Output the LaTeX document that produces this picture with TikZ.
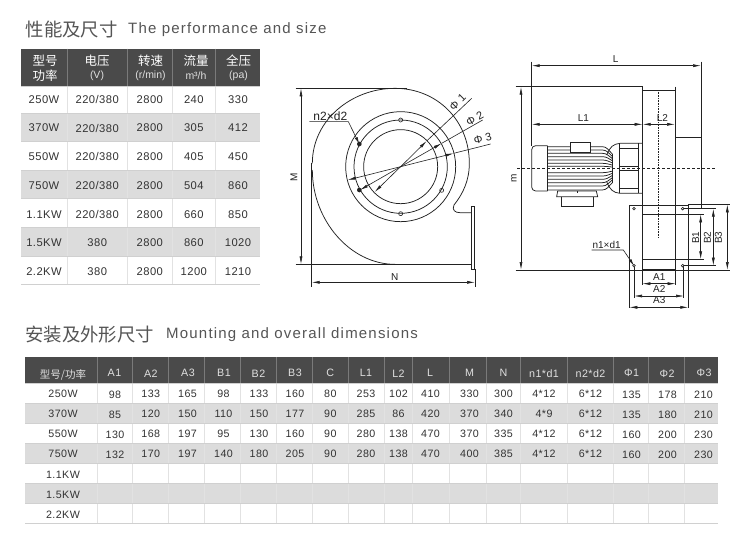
\documentclass[tikz,border=0pt]{standalone}
\usepackage{fontspec}
\setmainfont{Liberation Sans}
\newfontfamily\cjk{Noto Sans CJK SC}
\newfontfamily\spaced[LetterSpace=4]{Liberation Sans}
\newfontfamily\wide[LetterSpace=8]{Liberation Sans}
\usetikzlibrary{arrows.meta}
\definecolor{ink}{HTML}{333333}
\definecolor{headbg}{HTML}{4A4A4A}
\definecolor{stripe}{HTML}{DCDCDC}
\definecolor{rulecol}{HTML}{E2E2E2}
\definecolor{sepcol}{HTML}{7A7A7A}
\definecolor{drawcol}{HTML}{222222}
\definecolor{titlecol}{HTML}{555555}
\tikzset{
  cella/.style={text=ink,inner sep=0pt,anchor=center,font=\spaced\fontsize{11.2}{12}\selectfont},
  cellb/.style={text=ink,inner sep=0pt,anchor=center,font=\spaced\fontsize{10.7}{12}\selectfont},
  heada/.style={text=white,inner sep=0pt,anchor=center,font=\cjk\fontsize{12.5}{13}\selectfont},
  headb/.style={text=white!88!black,inner sep=0pt,anchor=center,font=\fontsize{10.5}{12}\selectfont},
  headc/.style={text=white!88!black,inner sep=0pt,anchor=center,font=\spaced\fontsize{10.7}{12}\selectfont},
  titlecn/.style={text=titlecol,inner sep=0pt,anchor=west,font=\cjk\fontsize{18.4}{20}\selectfont},
  titleen/.style={text=titlecol,inner sep=0pt,anchor=west,font=\wide\fontsize{15}{18}\selectfont},
  part/.style={draw=drawcol,line width=0.75pt},
  thin/.style={draw=drawcol,line width=0.6pt},
  dim/.style={draw=drawcol,line width=0.6pt,{Latex[length=8pt,width=3pt]}-{Latex[length=8pt,width=3pt]}},
  lab/.style={text=drawcol,inner sep=0pt,font=\fontsize{10}{11}\selectfont},
}
\newcommand{\rowA}[7]{%
  \node[cella] (a#1-1) at (44,#2) {#3};
  \node[cella] (a#1-2) at (97.2,#2) {#4};
  \node[cella] (a#1-3) at (149.8,#2) {2800};
  \node[cella] (a#1-4) at (193.8,#2) {#5};
  \node[cella] (a#1-5) at (238,#2) {#6};
}
\begin{document}
\begin{tikzpicture}[x=1pt,y=-1pt]
\useasboundingbox (0,0) rectangle (750,536);
\fill[white] (0,0) rectangle (750,536);

% ---------- titles
\node[titlecn] (title1) at (25.5,29.5) {性能及尺寸};
\node[titleen] (title1en) at (128,30) {The performance and size};
\node[titlecn] (title2) at (25,334.5) {安装及外形尺寸};
\node[titleen] (title2en) at (166,335) {Mounting and overall dimensions};

% ---------- table 1
\fill[headbg] (21,48.5) rectangle (260.3,86);
\fill[stripe] (21,113.3) rectangle (260.3,141.7);
\fill[stripe] (21,170) rectangle (260.3,198.5);
\fill[stripe] (21,227.3) rectangle (260.3,256);
\foreach \x in {67.3,127.3,172.3,215.3}{
  \draw[sepcol,line width=0.5pt] (\x,48.5) -- (\x,86);
  \draw[rulecol,line width=0.5pt] (\x,86) -- (\x,284.5);
}
\foreach \y in {86,113.3,141.7,170,198.5,227.3,256,284.5}
  \draw[rulecol!92!black,line width=0.5pt] (21,\y) -- (260.3,\y);
\node[heada] (h1a) at (45,61) {型号};
\node[heada] (h1b) at (45,76) {功率};
\node[heada] (h2a) at (97,61) {电压};
\node[headb] (h2b) at (97,75.5) {(V)};
\node[heada] (h3a) at (150.5,61) {转速};
\node[headb] (h3b) at (150.5,75.5) {(r/min)};
\node[heada] (h4a) at (196,61) {流量};
\node[headb] (h4b) at (196,76) {m³/h};
\node[heada] (h5a) at (238.5,61) {全压};
\node[headb] (h5b) at (238.5,75.5) {(pa)};
\rowA{1}{99.5}{250W}{220/380}{240}{330}{}
\rowA{2}{128}{370W}{220/380}{305}{412}{}
\rowA{3}{156.8}{550W}{220/380}{405}{450}{}
\rowA{4}{185.3}{750W}{220/380}{504}{860}{}
\rowA{5}{214.3}{1.1KW}{220/380}{660}{850}{}
\rowA{6}{242.8}{1.5KW}{380}{860}{1020}{}
\rowA{7}{271.3}{2.2KW}{380}{1200}{1210}{}

% ---------- table 2
\fill[headbg] (25,357.3) rectangle (718.3,383.3);
\fill[stripe] (25,403.3) rectangle (718.3,423.7);
\fill[stripe] (25,443.3) rectangle (718.3,463.7);
\fill[stripe] (25,483.3) rectangle (718.3,503.7);
\foreach \x in {97.7,132.5,168.5,204.7,240.7,276.7,312.7,348.5,384.5,412.3,449.3,486.3,520.7,567.3,613,648.3,684.3}{
  \draw[sepcol,line width=0.5pt] (\x,357.3) -- (\x,383.3);
  \draw[rulecol,line width=0.5pt] (\x,383.3) -- (\x,523.3);
}
\foreach \y in {383.3,403.3,423.7,443.3,463.7,483.3,503.7,523.3}
  \draw[rulecol!92!black,line width=0.5pt] (25,\y) -- (718.3,\y);
\node[text=white!88!black,inner sep=0pt,font=\cjk\fontsize{10.5}{12}\selectfont] (hh0) at (63,374.5) {型号/功率};
\foreach \x/\t [count=\i] in {114.5/A1,150.8/A2,188/A3,224/B1,258.5/B2,295/B3,330.3/C,366/L1,398.5/L2,430/L,469.5/M,503.5/N,544/n1*d1,590.5/n2*d2,631.5/Φ1,667/Φ2,704/Φ3}
  \node[headc] (hh\i) at (\x,373.3) {\t};
\foreach \y/\t [count=\i] in {393.5/250W,414/370W,434/550W,454/750W,474.5/1.1KW,494.5/1.5KW,514.5/2.2KW}
  \node[cellb] (r\i) at (63,\y) {\t};
\foreach \n/\y/\dd/\va/\vb/\vc/\vd/\ve/\vf/\vg/\vh/\vi/\vj/\vk/\vl/\vm/\vo/\vp/\vq/\vr in {
  1/393.5/395/98/133/165/98/133/160/80/253/102/410/330/300/4*12/6*12/135/178/210,
  2/413.5/415/85/120/150/110/150/177/90/285/86/420/370/340/4*9/6*12/135/180/210,
  3/433.5/435/130/168/197/95/130/160/90/280/138/470/370/335/4*12/6*12/160/200/230,
  4/453.5/455/132/170/197/140/180/205/90/280/138/470/400/385/4*12/6*12/160/200/230}{
  \node[cellb] (c\n-1) at (115,\dd) {\va};
  \node[cellb] (c\n-2) at (150.8,\y) {\vb};
  \node[cellb] (c\n-3) at (187.5,\y) {\vc};
  \node[cellb] (c\n-4) at (223.5,\y) {\vd};
  \node[cellb] (c\n-5) at (259,\y) {\ve};
  \node[cellb] (c\n-6) at (295,\y) {\vf};
  \node[cellb] (c\n-7) at (330.3,\y) {\vg};
  \node[cellb] (c\n-8) at (366,\y) {\vh};
  \node[cellb] (c\n-9) at (398.5,\y) {\vi};
  \node[cellb] (c\n-10) at (430.5,\y) {\vj};
  \node[cellb] (c\n-11) at (469.5,\y) {\vk};
  \node[cellb] (c\n-12) at (503.5,\y) {\vl};
  \node[cellb] (c\n-13) at (544,\y) {\vm};
  \node[cellb] (c\n-14) at (590.5,\y) {\vo};
  \node[cellb] (c\n-15) at (631.5,\dd) {\vp};
  \node[cellb] (c\n-16) at (667.5,\dd) {\vq};
  \node[cellb] (c\n-17) at (703.5,\dd) {\vr};
}

% ---------- scroll housing (zoomed pixel frame)
\begin{scope}[shift={(280,70)},scale=1/3]
  \coordinate (fc) at (362,290);
  \draw[part] (97,280) .. controls (97,150) and (215,55) .. (345,55)
       .. controls (470,55) and (568,150) .. (568,280)
       .. controls (568,330) and (550,370) .. (522,405)
       .. controls (515,420) and (525,428) .. (540,428) -- (576,428);
  \draw[part] (97,300) .. controls (97,450) and (210,583) .. (345,583);
  \draw[part] (47,55) -- (380,55);
  \draw[part] (47,583) -- (576,583);
  \draw[part] (95,280) -- (95,650);
  \draw[thin] (585,598) -- (585,650);
  \draw[part,fill=white] (575,410) rectangle (583,598);
  \draw[part] (fc) circle[radius=111];
  \draw[part] (fc) circle[radius=140];
  \draw[part] (fc) circle[radius=165];
  \draw[thin] (362,150) circle[radius=6];
  \draw[thin] (362,431) circle[radius=6];
  \draw[thin] (485,361) circle[radius=6];
  \fill[drawcol] (238,222) circle[radius=7];
  \fill[drawcol] (238,360) circle[radius=7];
  \draw[dim] (63,55) -- (63,583);
  \draw[dim] (95,637) -- (585,637);
  \node[lab,rotate=90] (labM) at (42,322) {M};
  \node[lab] (labN) at (344,620) {N};
  % diameters
  \draw[thin,-{Latex[length=8pt,width=3pt]}] (362,290) -- (284,366);
  \draw[thin,-{Latex[length=8pt,width=3pt]}] (362,290) -- (440,213);
  \draw[thin] (440,213) -- (575,85);
  \draw[thin,-{Latex[length=8pt,width=3pt]}] (362,290) -- (240,360);
  \draw[thin,-{Latex[length=8pt,width=3pt]}] (362,290) -- (485,220);
  \draw[thin] (485,220) -- (608,150);
  \draw[thin,-{Latex[length=8pt,width=3pt]}] (362,290) -- (203,330);
  \draw[thin,-{Latex[length=8pt,width=3pt]}] (362,290) -- (521,250);
  \draw[thin] (521,250) -- (632,222);
  \node[lab,rotate=45,font=\fontsize{11}{12}\selectfont] (phi1) at (533,97) {Φ 1};
  \node[lab,rotate=30,font=\fontsize{11}{12}\selectfont] (phi2) at (584,146) {Φ 2};
  \node[lab,rotate=14,font=\fontsize{11}{12}\selectfont] (phi3) at (608,207) {Φ 3};
  \node[lab,font=\fontsize{12}{13}\selectfont] (n2d2) at (151,138) {n2×d2};
  \draw[thin,-{Latex[length=7pt,width=3pt]}] (88,155) -- (205,155) -- (238,222);
\end{scope}

% ---------- side elevation (zoomed pixel frame)
\begin{scope}[shift={(500,40)},scale=1/3]
  \draw[part] (95,65) -- (95,318);
  \draw[part,line width=0.9pt] (603,65) -- (603,505);
  \draw[dim] (95,77) -- (603,77);
  \node[lab] (labL) at (347,57) {L};
  \draw[part] (47,140) -- (428,140) -- (428,495);
  \draw[part] (428,150) -- (525,150);
  \draw[part] (525,140) -- (525,495);
  \draw[part] (525,293) -- (603,293);
  \draw[thin,densely dotted] (476,150) -- (476,595);
  \draw[thin,densely dashed] (52,385) -- (650,385);
  \draw[dim] (95,253) -- (428,253);
  \draw[dim] (428,253) -- (525,253);
  \node[lab] (labL1) at (250,233) {L1};
  \node[lab] (labL2) at (487,233) {L2};
  \draw[dim,line width=0.7pt] (63,140) -- (63,690);
  \node[lab,rotate=90] (labm) at (42,415) {m};
  \draw[part] (47,690) -- (690,690);
  % inlet flange
  \draw[part,fill=white] (388,495) rectangle (565,690);
  \draw[part] (428,495) -- (428,523);
  \draw[part] (525,495) -- (525,523);
  \draw[thin,densely dotted] (476,495) -- (476,595);
  \draw[part] (427,523) rectangle (527,688);
  \draw[part] (427,658) -- (527,658);
  \draw[thin] (388,690) -- (388,805);
  \draw[thin] (565,690) -- (565,805);
  \draw[thin] (427,688) -- (427,735);
  \draw[thin] (527,688) -- (527,735);
  \draw[thin] (402,677) -- (402,775);
  \draw[thin] (550,677) -- (550,775);
  \foreach \x/\y in {402/506,548/506,402/677,548/677}
    \draw[thin,fill=white] (\x,\y) circle[radius=4];
  \draw[thin] (552,506) -- (648,506);
  \draw[thin] (527,523) -- (612,523);
  \draw[thin] (527,658) -- (612,658);
  \draw[thin] (552,677) -- (648,677);
  \draw[thin] (565,493) -- (690,493);
  \draw[dim] (602,523) -- (602,658);
  \draw[dim] (640,506) -- (640,677);
  \draw[dim] (682,493) -- (682,690);
  \draw[dim] (427,731) -- (527,731);
  \draw[dim] (402,768) -- (552,768);
  \draw[dim] (388,802) -- (565,802);
  \node[lab] (labA1) at (478,712) {A1};
  \node[lab] (labA2) at (478,746) {A2};
  \node[lab] (labA3) at (478,780) {A3};
  \node[lab,rotate=90] (labB1) at (587,593) {B1};
  \node[lab,rotate=90] (labB2) at (622,593) {B2};
  \node[lab,rotate=90] (labB3) at (655,593) {B3};
  \node[lab] (n1d1) at (320,614) {n1×d1};
  \draw[thin,-{Latex[length=7pt,width=3pt]}] (275,630) -- (370,630) -- (402,677);
\end{scope}

% ---------- motor (zoomed pixel frame)
\begin{scope}[shift={(525,130)},scale=1/3]
  \draw[part,rounded corners=4pt] (68,47) -- (20,47) -- (20,183) -- (68,183);
  \draw[part] (68,47) -- (68,183);
  \draw[part] (68,50) -- (232,50) .. controls (245,50) and (250,60) .. (262,72);
  \draw[part] (68,180) -- (232,180) .. controls (245,180) and (250,170) .. (262,158);
  \foreach \y in {60,70,80,90,100,109,128,138,148,158,168}
    \draw[part] (68,\y) -- (232,\y) .. controls (245,\y) and (250,{115+(\y-115)*0.85}) .. (262,{115+(\y-115)*0.65});
  \draw[part,fill=white] (136,38) rectangle (195,66);
  \draw[part] (245,75) .. controls (255,50) and (265,42) .. (285,40) -- (352,40);
  \draw[part] (245,155) .. controls (255,180) and (265,188) .. (285,190) -- (352,190);
  \draw[part] (262,72) -- (262,158);
  \draw[part] (283,40) -- (283,190);
  \draw[part] (340,40) -- (340,190);
  \draw[part] (283,55) -- (340,55);
  \draw[part] (283,108) -- (340,108);
  \draw[part] (283,122) -- (340,122);
  \draw[part] (283,175) -- (340,175);
  \draw[part] (95,200) -- (218,200) -- (214,183) -- (98,183) -- cycle;
  \draw[part] (108,200) -- (108,228) -- (205,228) -- (205,200);
  \draw[part] (157,183) -- (157,190);
\end{scope}
\end{tikzpicture}
\end{document}
